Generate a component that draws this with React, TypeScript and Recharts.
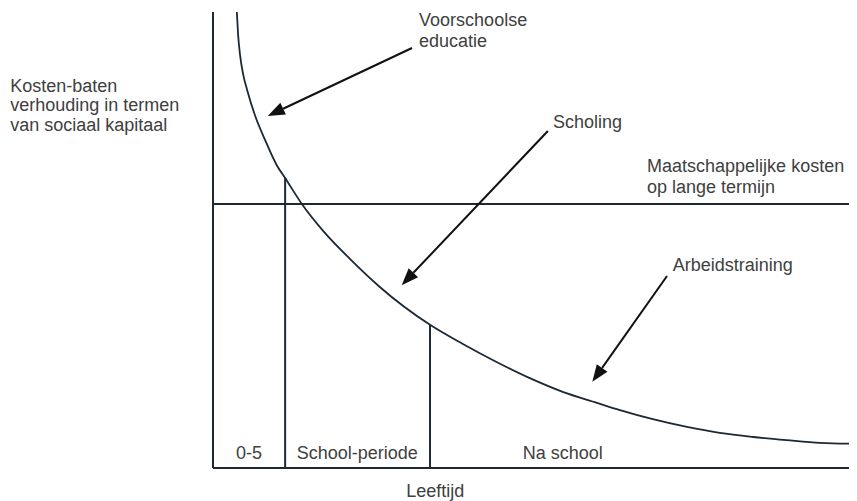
import {
  ComposedChart,
  Line,
  ReferenceDot,
  ReferenceLine,
  XAxis,
  YAxis,
} from 'recharts';

// curve: x = age along the axis (0-100), y = cost-benefit (0-100)
const curveX = [
  3.7, 3.9, 4.2, 4.7, 5.3, 6.5, 8.1, 9.9, 11.2, 13.8, 17.1, 21.3, 25.9, 33.7,
  38.8, 44.1, 49.2, 54.3, 59.6, 63.2, 68.3, 73.6, 78.7, 83.9, 89.1, 94.3, 100,
];
const curveY = [
  100, 95.0, 90.6, 86.2, 82.9, 77.4, 71.9, 66.4, 63.6, 57.9, 52.0, 45.8, 39.7, 31.4,
  27.2, 23.2, 19.7, 16.7, 14.3, 12.7, 10.7, 9.0, 7.7, 6.8, 6.1, 5.5, 5.3,
];

const societyCost = 57.9;
const periodBounds = [11.2, 33.7];
const periodLabels = ['0-5', 'School-periode', 'Na school'];
const periodLabelX = [5.6, 22.4, 54.3];

const arrowLabels = [['Voorschoolse', 'educatie'], ['Scholing'], ['Arbeidstraining']];
const arrowFrom = [[30.9, 92.1], [52.0, 73.9], [70.5, 42.1]];
const arrowTo = [[8.5, 77.2], [29.3, 40.1], [58.9, 18.9]];
const arrowLabelAt = [[32.0, 96.9], [52.8, 74.6], [71.4, 43.2]];

const costLabel = ['Maatschappelijke kosten', 'op lange termijn'];
const costLabelAt = [67.4, 64.9];
const yTitle = ['Kosten-baten', 'verhouding in termen', 'van sociaal kapitaal'];
const yTitleAt = [-31.5, 82.5];
const xTitle = 'Leeftijd';
const xTitleAt = [34.5, -6.4];

const curve = curveX.map((x, i) => ({ x, y: curveY[i] }));
const curveAt = (x: number) => curve.find((d) => d.x === x)?.y ?? 0;

const INK = '#1c2833';
const TEXT = '#404040';
const FONT = '"Liberation Sans", Arial, Helvetica, sans-serif';

function Arrow(p: any) {
  const { x1, y1, x2, y2 } = p;
  const dx = x2 - x1;
  const dy = y2 - y1;
  const len = Math.hypot(dx, dy);
  const ux = dx / len;
  const uy = dy / len;
  const hl = 17;
  const hw = 6.5;
  const bx = x2 - ux * hl;
  const by = y2 - uy * hl;
  return (
    <g>
      <line x1={x1} y1={y1} x2={bx} y2={by} stroke="#111" strokeWidth={2} />
      <polygon
        points={`${x2},${y2} ${bx - uy * hw},${by + ux * hw} ${bx + uy * hw},${by - ux * hw}`}
        fill="#111"
      />
    </g>
  );
}

function textShape(lines: string[], anchor: 'start' | 'middle' = 'start', lh = 21) {
  return (p: any) => (
    <text
      x={p.cx}
      y={p.cy}
      textAnchor={anchor}
      fontFamily={FONT}
      fontSize={18}
      fill={TEXT}
    >
      {lines.map((l, i) => (
        <tspan key={i} x={p.cx} dy={i === 0 ? 0 : lh}>
          {l}
        </tspan>
      ))}
    </text>
  );
}

export default function App() {
  return (
    <ComposedChart
      width={849}
      height={493}
      data={curve}
      margin={{ top: 4, right: 0, bottom: 3, left: 0 }}
    >
      <XAxis
        type="number"
        dataKey="x"
        domain={[0, 100]}
        tick={false}
        tickLine={false}
        height={30}
        axisLine={{ stroke: INK, strokeWidth: 2 }}
      />
      <YAxis
        type="number"
        domain={[0, 100]}
        tick={false}
        tickLine={false}
        width={205}
        axisLine={{ stroke: INK, strokeWidth: 2 }}
      />
      <ReferenceLine y={societyCost} stroke={INK} strokeWidth={2} />
      {periodBounds.map((b) => (
        <ReferenceLine
          key={b}
          segment={[
            { x: b, y: 0 },
            { x: b, y: curveAt(b) },
          ]}
          stroke={INK}
          strokeWidth={2}
        />
      ))}
      <Line
        type="monotone"
        dataKey="y"
        stroke={INK}
        strokeWidth={1.8}
        dot={false}
        activeDot={false}
        isAnimationActive={false}
      />
      {arrowFrom.map((f, i) => (
        <ReferenceLine
          key={`arrow-${i}`}
          segment={[
            { x: f[0], y: f[1] },
            { x: arrowTo[i][0], y: arrowTo[i][1] },
          ]}
          shape={Arrow}
        />
      ))}
      {arrowLabels.map((lines, i) => (
        <ReferenceDot
          key={`al-${i}`}
          x={arrowLabelAt[i][0]}
          y={arrowLabelAt[i][1]}
          r={0}
          ifOverflow="visible"
          shape={textShape(lines)}
        />
      ))}
      {periodLabels.map((l, i) => (
        <ReferenceDot
          key={`pl-${i}`}
          x={periodLabelX[i]}
          y={2}
          r={0}
          ifOverflow="visible"
          shape={textShape([l], 'middle')}
        />
      ))}
      <ReferenceDot
        x={costLabelAt[0]}
        y={costLabelAt[1]}
        r={0}
        ifOverflow="visible"
        shape={textShape(costLabel)}
      />
      <ReferenceDot
        x={yTitleAt[0]}
        y={yTitleAt[1]}
        r={0}
        ifOverflow="visible"
        shape={textShape(yTitle, 'start', 19.5)}
      />
      <ReferenceDot
        x={xTitleAt[0]}
        y={xTitleAt[1]}
        r={0}
        ifOverflow="visible"
        shape={textShape([xTitle], 'middle')}
      />
    </ComposedChart>
  );
}
